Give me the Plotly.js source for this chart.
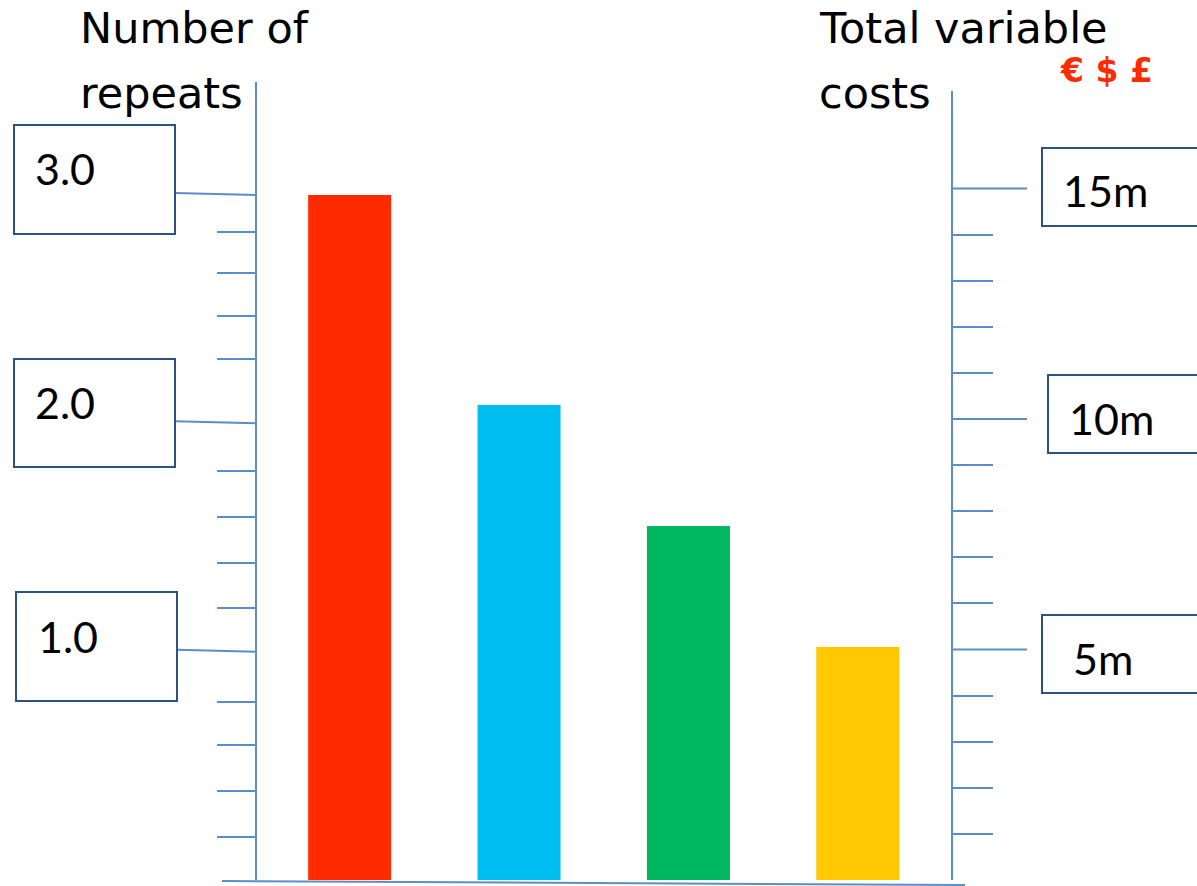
<!DOCTYPE html>
<html>
<head>
<meta charset="utf-8">
<script src="https://cdn.plot.ly/plotly-3.0.1.min.js"></script>
<style>html,body{margin:0;padding:0;background:#fff;}#chart{width:1197px;height:886px;}</style>
</head>
<body>
<div id="chart"></div>
<script>
// ---------- data ----------
const categories = ["Bar 1", "Bar 2", "Bar 3", "Bar 4"];
const repeats = [3.0, 2.08, 1.55, 1.02];              // left axis: number of repeats
const barColors = ["#FF2A00", "#00BEF2", "#00B860", "#FFC800"];

const leftMajorTicks = [3.0, 2.0, 1.0];
const leftMajorLabels = ["3.0", "2.0", "1.0"];
const leftMinorTicks = [0.19, 0.39, 0.59, 0.78, 1.19, 1.39, 1.59, 1.79, 2.28, 2.47, 2.66, 2.84];

const rightMajorTicks = [15, 10, 5];                   // total variable costs (millions)
const rightMajorLabels = ["15m", "10m", "5m"];
const rightMinorTicks = [1, 2, 3, 4, 6, 7, 8, 9, 11, 12, 13, 14];

const leftTitle = ["Number of", "repeats"];
const rightTitle = ["Total variable", "costs"];
const currencyLabel = "€ $ £";

// ---------- layout geometry ----------
const W = 1197, H = 886;
const L = 257, R = 952, T = 82, B = 880;
const px = x => (x - L) / (R - L);
const py = y => (B - y) / (B - T);
const yRange = [0, 3.495];
const y2Range = [0, 17.31];
const pyL = v => (v - yRange[0]) / (yRange[1] - yRange[0]);
const pyR = v => (v - y2Range[0]) / (y2Range[1] - y2Range[0]);

const lineBlue = "#5B8DC9";
const boxBlue = "#2C5282";
const LABEL_FONT = "Lato, 'Open Sans', sans-serif";
const TITLE_FONT = "'DejaVu Sans', sans-serif";
const fs = 43;
const tfs = 43;

const leftBoxes = [
  {x0: 14, x1: 175, y0: 125, y1: 234, tx: 33, ty: 168},
  {x0: 14, x1: 175, y0: 359, y1: 467, tx: 33, ty: 402},
  {x0: 16, x1: 177, y0: 592, y1: 701, tx: 36, ty: 636}
];
const rightBoxes = [
  {x0: 1042, x1: 1215, y0: 148, y1: 226, tx: 1061, ty: 190},
  {x0: 1048, x1: 1215, y0: 375, y1: 453, tx: 1067, ty: 418},
  {x0: 1042, x1: 1215, y0: 615, y1: 693, tx: 1071, ty: 658}
];

const shapes = [];
const annotations = [];

// bottom line
shapes.push({type: "line", xref: "paper", yref: "paper", layer: "below",
  x0: px(222), y0: py(881), x1: px(965), y1: py(885),
  line: {color: lineBlue, width: 2}});
// right axis line
shapes.push({type: "line", xref: "paper", yref: "paper",
  x0: 1, y0: py(91), x1: 1, y1: py(880),
  line: {color: lineBlue, width: 2}});

leftMajorTicks.forEach((v, i) => {
  const b = leftBoxes[i];
  shapes.push({type: "line", xref: "paper", yref: "paper",
    x0: px(b.x1), x1: 0, y0: pyL(v) + 2 / (B - T), y1: pyL(v),
    line: {color: lineBlue, width: 2}});
  shapes.push({type: "rect", xref: "paper", yref: "paper",
    x0: px(b.x0), x1: px(b.x1), y0: py(b.y1), y1: py(b.y0),
    line: {color: boxBlue, width: 2}, fillcolor: "rgba(0,0,0,0)"});
  annotations.push({text: leftMajorLabels[i], xref: "paper", yref: "paper",
    x: px(b.tx), y: py(b.ty), xanchor: "left", yanchor: "middle", showarrow: false,
    font: {family: LABEL_FONT, size: fs, color: "#000"}});
});

rightMajorTicks.forEach((v, i) => {
  const b = rightBoxes[i];
  shapes.push({type: "line", xref: "paper", yref: "paper",
    x0: 1, x1: px(1027), y0: pyR(v), y1: pyR(v),
    line: {color: lineBlue, width: 2}});
  shapes.push({type: "rect", xref: "paper", yref: "paper",
    x0: px(b.x0), x1: px(b.x1), y0: py(b.y1), y1: py(b.y0),
    line: {color: boxBlue, width: 2}, fillcolor: "rgba(0,0,0,0)"});
  annotations.push({text: rightMajorLabels[i], xref: "paper", yref: "paper",
    x: px(b.tx), y: py(b.ty), xanchor: "left", yanchor: "middle", showarrow: false,
    font: {family: LABEL_FONT, size: fs, color: "#000"}});
});

// axis titles
[[leftTitle[0], 78, 28.5], [leftTitle[1], 78, 93], [rightTitle[0], 817, 28.5], [rightTitle[1], 817, 93]]
  .forEach(([t, x, y]) => annotations.push({text: t, xref: "paper", yref: "paper",
    x: px(x), y: py(y), xanchor: "left", yanchor: "middle", showarrow: false,
    font: {family: TITLE_FONT, size: tfs, color: "#000"}}));

annotations.push({text: currencyLabel, xref: "paper", yref: "paper",
  x: px(1058), y: py(70.5), xanchor: "left", yanchor: "middle", showarrow: false,
  font: {family: "'DejaVu Sans', sans-serif", size: 33, color: "#FF2A00", weight: "bold"}});

const traces = [
  {type: "bar", x: categories, y: repeats, marker: {color: barColors}, hoverinfo: "none", showlegend: false},
  {type: "scatter", x: [categories[0]], y: [null], yaxis: "y2", mode: "markers", hoverinfo: "none", showlegend: false}
];

const layout = {
  width: W, height: H, autosize: false,
  margin: {l: L, r: W - R, t: T, b: H - B, pad: 0},
  paper_bgcolor: "#fff", plot_bgcolor: "#fff",
  bargap: 0.51,
  showlegend: false,
  xaxis: {type: "category", range: [-0.547, 3.556], showticklabels: false, ticks: "",
    showgrid: false, zeroline: false, showline: false, fixedrange: true},
  yaxis: {range: yRange, showticklabels: false, showgrid: false, zeroline: false,
    showline: true, linecolor: lineBlue, linewidth: 2,
    ticks: "outside", tickmode: "array", tickvals: leftMinorTicks, ticklen: 38,
    tickcolor: lineBlue, tickwidth: 2, fixedrange: true},
  yaxis2: {range: y2Range, overlaying: "y", side: "right", showticklabels: false,
    showgrid: false, zeroline: false, showline: false,
    ticks: "outside", tickmode: "array", tickvals: rightMinorTicks, ticklen: 40,
    tickcolor: lineBlue, tickwidth: 2, fixedrange: true},
  shapes: shapes,
  annotations: annotations
};

Plotly.newPlot("chart", traces, layout, {displayModeBar: false, staticPlot: true});
</script>
</body>
</html>
